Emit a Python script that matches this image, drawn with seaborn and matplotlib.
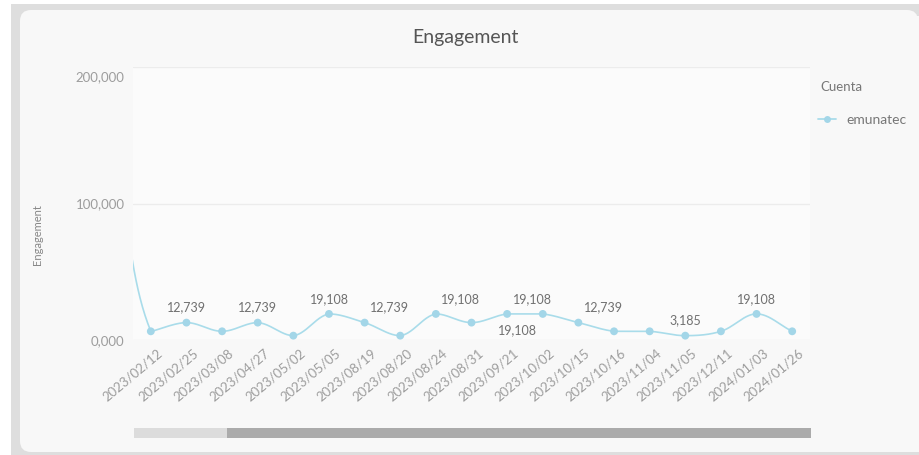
import numpy as np
import pandas as pd
import matplotlib
matplotlib.use("Agg")
import matplotlib.pyplot as plt
import seaborn as sns
from matplotlib.patches import FancyBboxPatch, Rectangle
from matplotlib.lines import Line2D
from matplotlib.transforms import ScaledTranslation

# Engagement per publication date for the account
fechas = [
    "2023/01/29", "2023/02/12", "2023/02/25", "2023/03/08", "2023/04/27",
    "2023/05/02", "2023/05/05", "2023/08/19", "2023/08/20", "2023/08/24",
    "2023/08/31", "2023/09/21", "2023/10/02", "2023/10/15", "2023/10/16",
    "2023/11/04", "2023/11/05", "2023/12/11", "2024/01/03", "2024/01/26",
]
engagement = [
    140133, 6369, 12739, 6369, 12739,
    3185, 19108, 12739, 3185, 19108,
    12739, 19108, 19108, 12739, 6369,
    6369, 3185, 6369, 19108, 6369,
]
cuenta = "emunatec"
y_ticks = [0, 100000, 200000]
y_tick_labels = ["0,000", "100,000", "200,000"]

# value labels shown on the chart: (point index, dx px, dy px)
etiquetas = [(2, 0, 15), (4, 0, 15), (6, 0, 15), (7, 25, 15), (9, 25, 15),
             (11, 25, 15), (12, -25, -16), (13, 25, 15), (16, 0, 15), (18, 0, 15)]

LINE_C = "#a9dcea"
MARK_C = "#a3d6e8"
TXT_C = "#9d9d9d"

sns.set_theme(style="white")
plt.rcParams["font.family"] = ["Lato", "DejaVu Sans"]

W, H = 920, 455
fig = plt.figure(figsize=(W / 100, H / 100), dpi=100, facecolor="white")

# card background
fig.patches.append(Rectangle((11 / W, 0), 1, (H - 4) / H, transform=fig.transFigure,
                             facecolor="#dedede", edgecolor="none", zorder=-3))
fig.patches.append(FancyBboxPatch((20 / W, 3 / H), 898 / W, 442 / H,
                                  boxstyle="round,pad=0,rounding_size=0.012",
                                  transform=fig.transFigure, facecolor="#f8f8f8",
                                  edgecolor="none", zorder=-2, mutation_aspect=W / H))
fig.patches.append(Rectangle((60 / W, 3 / H), 1, 436 / H, transform=fig.transFigure,
                             facecolor="#f8f8f8", edgecolor="none", zorder=-2))

x0, x1, ytop, ybot = 133, 810, 67, 340
ax = fig.add_axes([x0 / W, 1 - ybot / H, (x1 - x0) / W, (ybot - ytop) / H])
ax.set_facecolor("#fbfbfb")

df = pd.DataFrame({"fecha": fechas, "engagement": engagement, "cuenta": cuenta})
df["pos"] = np.arange(len(df))

# smoothed line (bezier with clamped control points)
px_x = (x1 - x0) / 19.0
px_y = (ybot - ytop) / 200000.0


def smooth_curve(xs, ys, smooth=0.35, steps=40):
    pts = np.column_stack([xs * px_x, ys * px_y]).astype(float)
    n = len(pts)
    c_in, c_out = [], []
    for i in range(n):
        p = pts[i]
        prv = pts[i - 1] if i > 0 else p
        nxt = pts[i + 1] if i < n - 1 else p
        v = nxt - prv
        d0 = np.linalg.norm(p - prv)
        d1 = np.linalg.norm(nxt - p)
        tot = d0 + d1
        if tot == 0:
            a, b = p.copy(), p.copy()
        else:
            a = p - v * smooth * d0 / tot
            b = p + v * smooth * d1 / tot
        a[0] = np.clip(a[0], min(p[0], prv[0]), max(p[0], prv[0]))
        a[1] = np.clip(a[1], min(p[1], prv[1]), max(p[1], prv[1]))
        b[0] = np.clip(b[0], min(p[0], nxt[0]), max(p[0], nxt[0]))
        b[1] = np.clip(b[1], min(p[1], nxt[1]), max(p[1], nxt[1]))
        c_in.append(a)
        c_out.append(b)
    t = np.linspace(0, 1, steps)[:, None]
    segs = []
    for i in range(n - 1):
        P0, P1, P2, P3 = pts[i], c_out[i], c_in[i + 1], pts[i + 1]
        seg = ((1 - t) ** 3) * P0 + 3 * ((1 - t) ** 2) * t * P1 + 3 * (1 - t) * t ** 2 * P2 + t ** 3 * P3
        segs.append(seg)
    c = np.vstack(segs)
    return c[:, 0] / px_x, c[:, 1] / px_y


cx, cy = smooth_curve(df["pos"].values, df["engagement"].values)
ax.plot(cx, cy, color=LINE_C, lw=1.2, zorder=2, solid_capstyle="round")
sns.scatterplot(data=df, x="pos", y="engagement", ax=ax, color=MARK_C, s=32,
                edgecolor="none", zorder=3, legend=False)

for idx, dx, dy in etiquetas:
    v = engagement[idx]
    ax.annotate(f"{v:,}", (idx, v), xytext=(dx * 0.72, dy * 0.72), textcoords="offset points",
                ha="center", va="center", fontsize=9, color="#707070", zorder=4)

ax.set_xlim(0.5, 19.5)
ax.set_ylim(0, 200000)
ax.set_xticks(df["pos"].values[1:])
ax.set_xticklabels(fechas[1:], rotation=40, ha="right", va="top",
                   rotation_mode="anchor", fontsize=9.5, color=TXT_C)
ax.set_yticks(y_ticks)
ax.set_yticklabels(y_tick_labels, fontsize=9.5, color=TXT_C)
ax.tick_params(axis="both", length=0, pad=6)
ax.tick_params(axis="x", pad=5)
for lab in ax.get_xticklabels():
    lab.set_transform(lab.get_transform() + ScaledTranslation(6 / 100, 0, fig.dpi_scale_trans))
top_lab = ax.get_yticklabels()[-1]
top_lab.set_transform(top_lab.get_transform() + ScaledTranslation(0, -9 / 100, fig.dpi_scale_trans))

ax.grid(axis="y", color="#ececec", lw=1)
ax.grid(axis="x", visible=False)
for s in ax.spines.values():
    s.set_visible(False)
ax.set_xlabel("")
ax.set_ylabel("")

fig.text(38 / W, 1 - 235 / H, "Engagement", rotation=90, ha="center", va="center",
         fontsize=8, color="#888888")
fig.text(465 / W, 1 - 37 / H, "Engagement", ha="center", va="center",
         fontsize=14, color="#555555")

# legend
fig.text(820 / W, 1 - 87 / H, "Cuenta", ha="left", va="center", fontsize=9.5, color="#777777")
handle = Line2D([], [], color=LINE_C, lw=1.3, marker="o", markersize=5,
                markerfacecolor=MARK_C, markeredgecolor="none")
fig.legend([handle], [cuenta], loc="center left", bbox_to_anchor=(812 / W, 1 - 120 / H),
           frameon=False, fontsize=10, labelcolor="#777777", handlelength=1.3,
           handletextpad=0.8, borderaxespad=0)

# range slider under the chart
fig.patches.append(Rectangle((134 / W, 1 - 438 / H), (227 - 134) / W, 10 / H,
                             transform=fig.transFigure, facecolor="#dcdcdc", edgecolor="none"))
fig.patches.append(Rectangle((227 / W, 1 - 438 / H), (811 - 227) / W, 10 / H,
                             transform=fig.transFigure, facecolor="#ababab", edgecolor="none"))

fig.savefig("out.png", dpi=100, facecolor=fig.get_facecolor())
